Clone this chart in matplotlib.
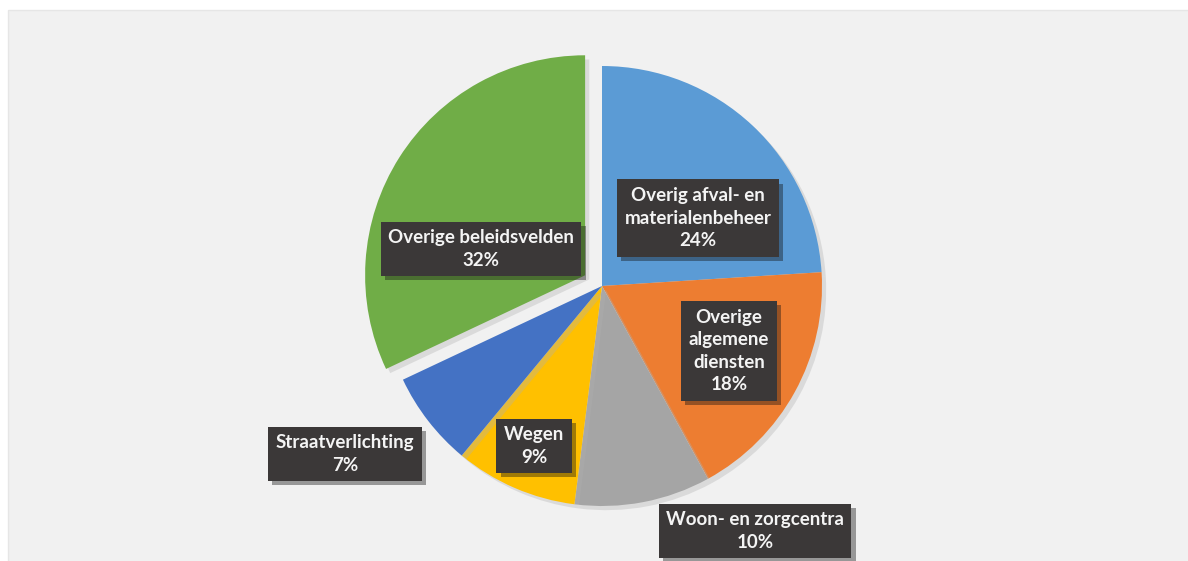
import matplotlib
matplotlib.use("Agg")
import matplotlib.pyplot as plt
from matplotlib.patches import Rectangle
import matplotlib.patheffects as pe

categories = ["Overig afval- en\nmaterialenbeheer", "Overige\nalgemene\ndiensten",
              "Woon- en zorgcentra", "Wegen", "Straatverlichting", "Overige beleidsvelden"]
values = [24, 18, 10, 9, 7, 32]
colors = ["#5B9BD5", "#ED7D31", "#A5A5A5", "#FFC000", "#4472C4", "#70AD47"]
explode_flags = [0, 0, 0, 0, 0, 1]

W, H = 1188, 561
fig = plt.figure(figsize=(W / 100, H / 100), dpi=100, facecolor="white")
ax = fig.add_axes([0, 0, 1, 1])

# panel background
ax.add_patch(Rectangle((8, -5), W, H - 5, facecolor="#F1F1F1", edgecolor="#E6E6E6", lw=1, zorder=0))

cx, cy, r = 602, H - 286, 220
explode = [20 * f for f in explode_flags]
wedges, _ = ax.pie(values, colors=colors, startangle=90, counterclock=False,
                   center=(cx, cy), radius=r, explode=explode,
                   wedgeprops=dict(linewidth=0), frame=True)
for w in wedges:
    w.set_path_effects([pe.SimplePatchShadow(offset=(3, -3), shadow_rgbFace="#B0B0B0", alpha=0.35), pe.Normal()])
ax.set_xlim(0, W)
ax.set_ylim(0, H)
ax.set_aspect("equal")
ax.axis("off")

label_pos = [(698, 218), (729, 351), (755, 531), (534, 446), (345, 454), (481, 249)]
for cat, v, (x, y) in zip(categories, values, label_pos):
    t = ax.text(x, H - y, f"{cat}\n{v}%", ha="center", va="center", color="#F4F4F4",
                fontsize=13.5, fontweight="bold", family=["Lato", "DejaVu Sans"],
                linespacing=1.4, zorder=5,
                bbox=dict(boxstyle="square,pad=0.4", facecolor="#3B3838", edgecolor="none"))
    t.get_bbox_patch().set_path_effects([pe.SimplePatchShadow(offset=(3, -3), alpha=0.4), pe.Normal()])

fig.savefig("out.png", dpi=100, facecolor="white")
